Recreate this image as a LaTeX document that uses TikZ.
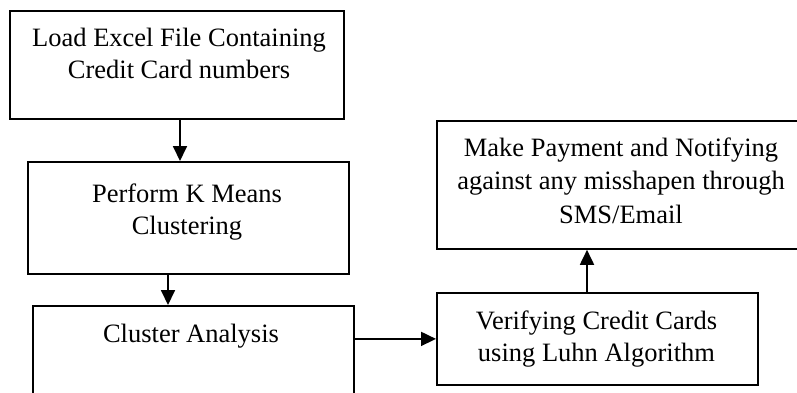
\documentclass[tikz,border=0pt]{standalone}
\usepackage{fontspec}
\setmainfont{Liberation Serif}
\usetikzlibrary{arrows.meta}
\newcommand\mlines[1]{\begin{tabular}[t]{@{}c@{}}#1\end{tabular}}
\begin{document}
\begin{tikzpicture}[x=1pt,y=-1pt,
  box/.style={draw=black, line width=1.8pt, inner sep=0pt, anchor=north west},
  lbl/.style={inner sep=0pt, anchor=base, font=\fontsize{26.5}{32}\selectfont},
  conn/.style={line width=1.8pt, -{Triangle[length=15pt,width=14pt]}}]
\clip (0,0) rectangle (797,392);
\fill[white] (0,0) rectangle (797,392);
% boxes
\node[box, minimum width=334pt, minimum height=108pt] (b1) at (9,10) {};
\node[box, minimum width=321pt, minimum height=112pt] (b2) at (27,161) {};
\node[box, minimum width=321pt, minimum height=100pt] (b3) at (32,305) {};
\node[box, minimum width=321pt, minimum height=92pt] (b4) at (436,292) {};
\node[box, minimum width=369pt, minimum height=128pt] (b5) at (436,120) {};
% texts
\node[lbl] (t1) at (179,46) {\mlines{Load Excel File Containing\\Credit Card numbers}};
\node[lbl] (t2) at (187,202) {\mlines{Perform K Means\\Clustering}};
\node[lbl] (t3) at (191,342) {Cluster Analysis};
\node[lbl] (t4) at (596.5,329) {\mlines{Verifying Credit Cards\\using Luhn Algorithm}};
\node[lbl, font=\fontsize{26.5}{33.5}\selectfont] (t5) at (621,156) {\mlines{Make Payment and Notifying\\against any misshapen through\\SMS/Email}};
% connectors
\draw[conn] ([xshift=171pt]b1.south west) -- ([xshift=153pt]b2.north west);
\draw[conn] ([xshift=141pt]b2.south west) -- ([xshift=136pt]b3.north west);
\draw[conn] (b3.east |- b4.west) -- (b4.west);
\draw[conn] ([xshift=151pt]b4.north west) -- ([xshift=151pt]b5.south west);
\end{tikzpicture}
\end{document}
